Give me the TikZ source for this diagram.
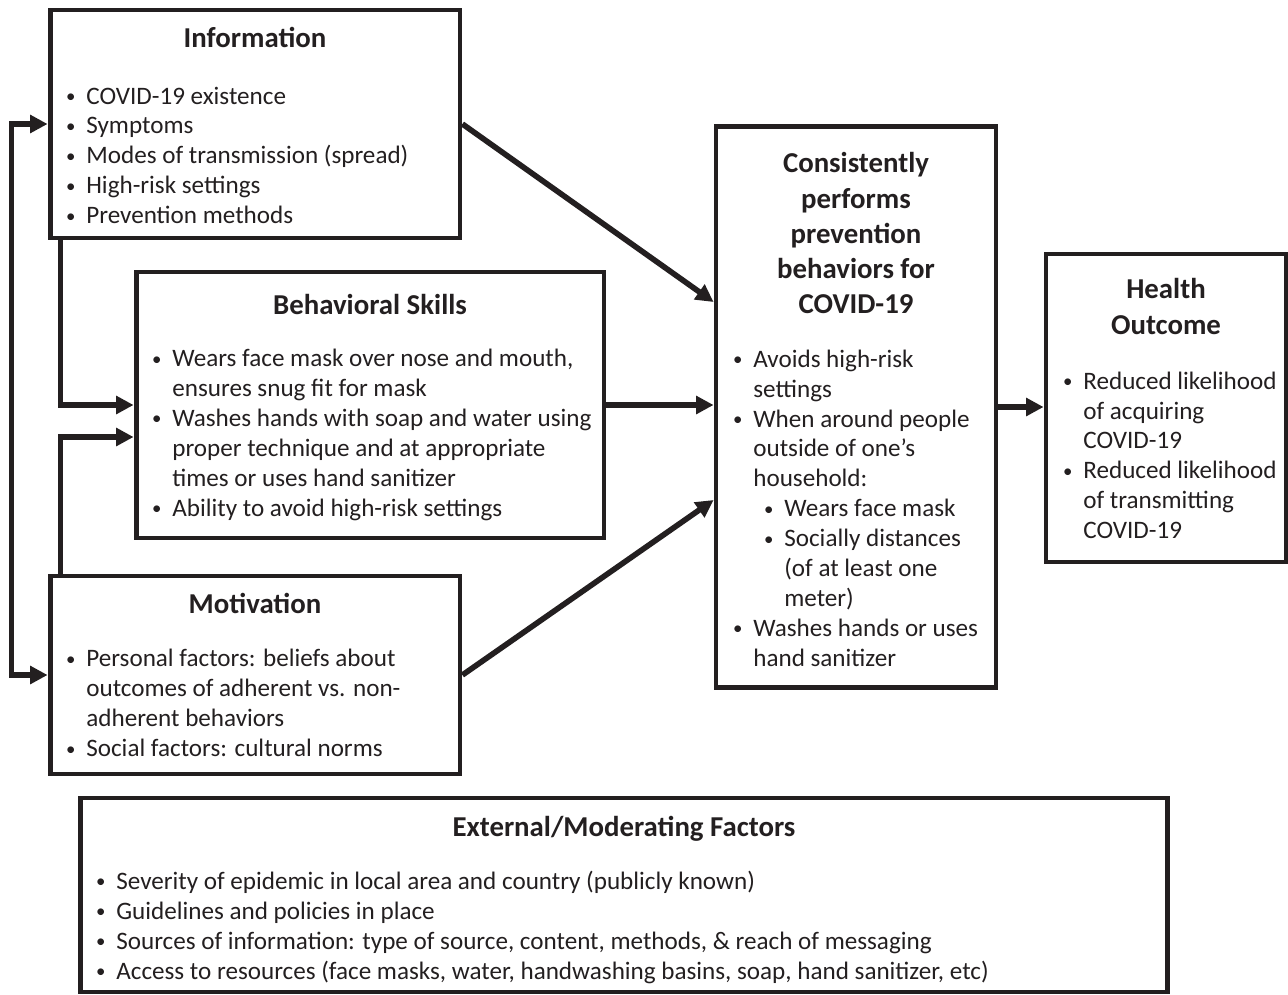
\documentclass[tikz,border=0pt]{standalone}
\usepackage{fontspec}
\setmainfont{Carlito}
\usepackage{tikz}
\usetikzlibrary{arrows.meta,calc,positioning}
\definecolor{ink}{HTML}{231F20}
\newcommand{\bu}{\makebox[0.42cm][l]{\hspace{0.5pt}\raisebox{0.12ex}{\scalebox{0.75}{\textbullet}}}}
\newcommand{\ct}{\hspace*{0.42cm}}
\newcommand{\sbu}{\hspace*{0.62cm}\bu}
\newcommand{\sct}{\hspace*{1.04cm}}

\begin{document}
\begin{tikzpicture}[x=0.02cm, y=-0.02cm]
	\tikzstyle{box} = [draw = ink, line width = 2.8pt, inner sep = 0pt]
	\tikzstyle{ttl} = [text = ink, inner sep = 0pt, align = center, anchor = base, font = \fontsize{16.4}{20}\selectfont\bfseries]
	\tikzstyle{lst} = [text = ink, inner sep = 0pt, align = left, anchor = base west, font = \fontsize{14.3}{17}\selectfont]
	\tikzstyle{arr} = [draw = ink, line width = 3.2pt, >={Triangle[length=10pt, width=10pt]}, ->]
\useasboundingbox (0,0) rectangle (1288,994);
% boxes
\node[box, minimum width = 8.2cm, minimum height = 4.56cm] (info) at (255,124) {};
\node[box, minimum width = 9.36cm, minimum height = 5.32cm] (bs) at (370,405) {};
\node[box, minimum width = 8.2cm, minimum height = 3.96cm] (mot) at (255,675) {};
\node[box, minimum width = 5.6cm, minimum height = 11.24cm] (cons) at (856,407) {};
\node[box, minimum width = 4.8cm, minimum height = 6.16cm] (ho) at (1166,408) {};
\node[box, minimum width = 21.76cm, minimum height = 3.88cm] (ext) at (624,895) {};
% titles (base = last line)
\node[ttl] (infottl) at (255,47) {Information};
\node[ttl] (bsttl) at (370,314) {Behavioral Skills};
\node[ttl] (motttl) at (255,613) {Motivation};
\node[ttl] (consttl) at (856,313.5) {Consistently\\performs\\prevention\\behaviors for\\COVID-19};
\node[ttl] (hottl) at (1166,334) {Health\\Outcome};
\node[ttl] (extttl) at (624,836) {External/Moderating Factors};
% lists (base = last line)
\node[lst] (infolst) at (65,223.5) {\bu COVID-19 existence\\
	\bu Symptoms\\
	\bu Modes of transmission (spread)\\
	\bu High-risk settings\\
	\bu Prevention methods};
\node[lst] (bslst) at (151,516) {\bu Wears face mask over nose and mouth,\\
	\ct ensures snug fit for mask\\
	\bu Washes hands with soap and water using\\
	\ct proper technique and at appropriate\\
	\ct times or uses hand sanitizer\\
	\bu Ability to avoid high-risk settings};
\node[lst] (motlst) at (65,756.5) {\bu Personal factors: beliefs about\\
	\ct outcomes of adherent vs. non-\\
	\ct adherent behaviors\\
	\bu Social factors: cultural norms};
\node[lst] (conslst) at (732,666) {\bu Avoids high-risk\\
	\ct settings\\
	\bu When around people\\
	\ct outside of one’s\\
	\ct household:\\
	\sbu Wears face mask\\
	\sbu Socially distances\\
	\sct (of at least one\\
	\sct meter)\\
	\bu Washes hands or uses\\
	\ct hand sanitizer};
\node[lst] (holst) at (1062,538.5) {\bu Reduced likelihood\\
	\ct of acquiring\\
	\ct COVID-19\\
	\bu Reduced likelihood\\
	\ct of transmitting\\
	\ct COVID-19};
\node[lst] (extlst) at (95,979) {\bu Severity of epidemic in local area and country (publicly known)\\
	\bu Guidelines and policies in place\\
	\bu Sources of information: type of source, content, methods, \& reach of messaging\\
	\bu Access to resources (face masks, water, handwashing basins, soap, hand sanitizer, etc)};
% connectors
	\draw[arr, <->] (info.west) -- ++(-36,0) |- (mot.west);
	\draw[arr] ($(info.south west)+(13,0)$) |- (bs.west);
	\draw[arr] ($(mot.north west)+(13,0)$) |- ($(bs.west)+(0,32)$);
	\draw[arr] (info.east) -- ($(cons.west)+(0,-105)$);
	\draw[arr] (bs.east) -- (bs.east -| cons.west);
	\draw[arr] (mot.east) -- ($(cons.west)+(0,93)$);
	\draw[arr] (cons.east) -- (cons.east -| ho.west);
	\end{tikzpicture}
\end{document}
